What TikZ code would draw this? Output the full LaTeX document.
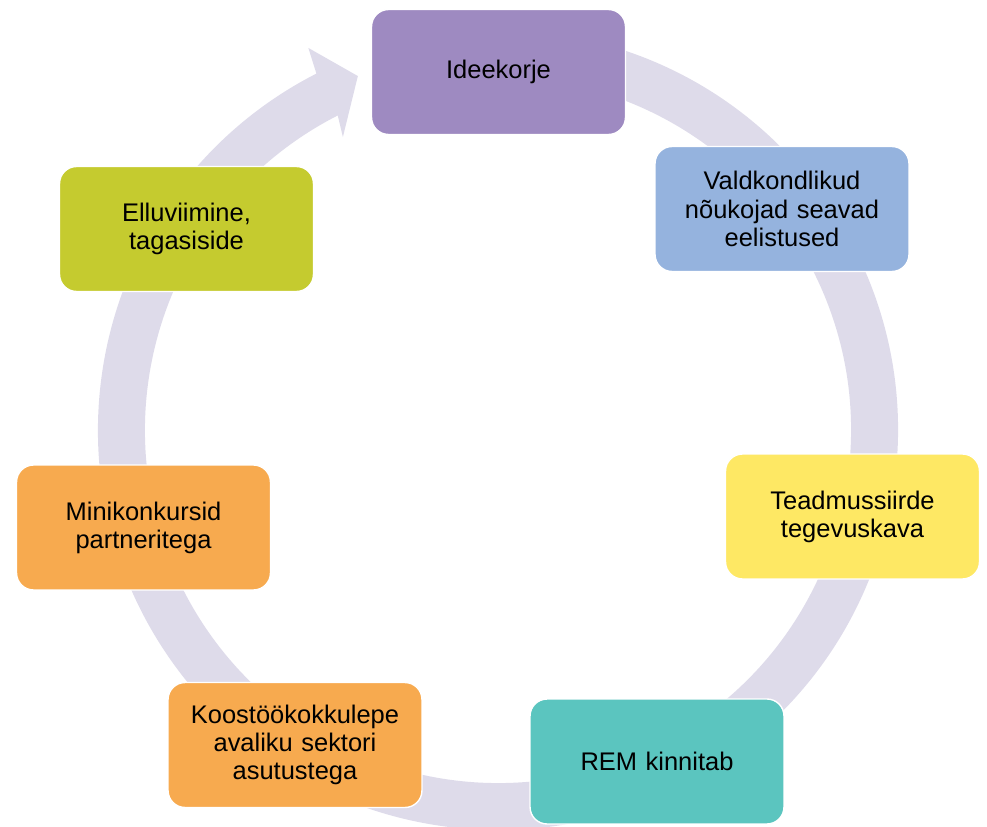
\documentclass[tikz,border=0pt]{standalone}
\usepackage{fontspec}
\setmainfont{Liberation Sans}
\definecolor{ringgray}{HTML}{DEDBEA}
\definecolor{stagepurple}{HTML}{9E8AC1}
\definecolor{stageblue}{HTML}{95B3DE}
\definecolor{stageyellow}{HTML}{FEE864}
\definecolor{stageteal}{HTML}{5BC5BF}
\definecolor{stageorange}{HTML}{F7AA4F}
\definecolor{stageolive}{HTML}{C5CB2F}

\begin{document}
\begin{tikzpicture}[x=0.02cm,y=0.02cm,
	stage/.style={rounded corners=0.34cm,draw=white,line width=0.8pt,
		minimum width=5.08cm,minimum height=2.5cm,text width=4.7cm,
		align=center,font=\fontsize{14.5}{16}\selectfont}]
	\useasboundingbox (0,0) rectangle (987,826);

	% ring with arrow head
	\coordinate (c) at (498,396);
	\fill[ringgray,shift={(c)}] (80:400) arc[start angle=80,end angle=-243,radius=400]
		-- (116.4:426.6) -- (111.6:380.7) -- (117.9:331.5)
		-- (-243:353) arc[start angle=-243,end angle=80,radius=353] -- cycle;

	% stages
	\node[stage,fill=stagepurple] (ideekorje) at (498.5,754) {Ideekorje};
	\node[stage,fill=stageblue] (noukojad) at (782,617) {Valdkondlikud\\nõukojad seavad\\eelistused};
	\node[stage,fill=stageyellow] (tegevuskava) at (852.5,309.5) {Teadmussiirde\\tegevuskava};
	\node[stage,fill=stageteal] (rem) at (657,64.5) {REM kinnitab};
	\node[stage,fill=stageorange] (koostoo) at (295,81) {Koostöökokkulepe\\avaliku sektori\\asutustega};
	\node[stage,fill=stageorange] (minikonkursid) at (143.5,298.5) {Minikonkursid\\partneritega};
	\node[stage,fill=stageolive] (elluviimine) at (186.5,597) {Elluviimine,\\tagasiside};

\end{tikzpicture}
\end{document}
